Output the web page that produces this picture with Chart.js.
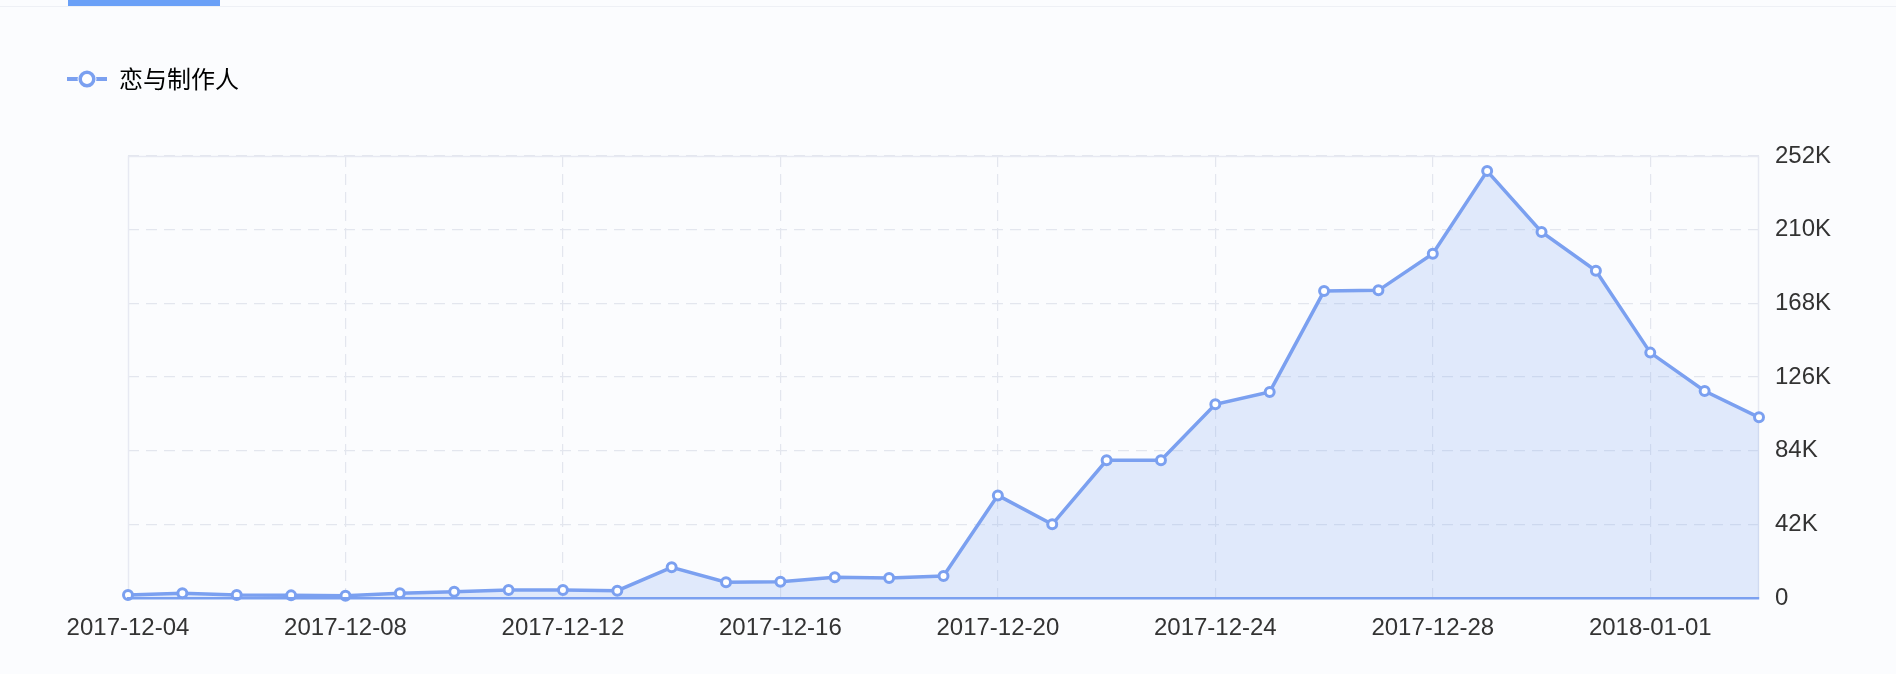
<!DOCTYPE html>
<html>
<head>
<meta charset="utf-8">
<script src="https://cdn.jsdelivr.net/npm/chart.js@4"></script>
<style>
  html, body { margin: 0; padding: 0; background: #fbfcfe; }
  #wrap { position: relative; width: 1896px; height: 674px; overflow: hidden; }
  #tab { position: absolute; left: 68px; top: 0; width: 152px; height: 6px; background: #6aa0f7; }
  #tabline { position: absolute; left: 0; top: 6px; width: 1896px; height: 1px; background: #eef0f5; }
  canvas { position: absolute; left: 0; top: 0; }
</style>
</head>
<body>
<div id="wrap">
  <canvas id="myChart" width="1896" height="674"></canvas>
  <div id="tabline"></div>
  <div id="tab"></div>
</div>
<script>
const seriesName = '恋与制作人';
const dates = [
  '2017-12-04','2017-12-05','2017-12-06','2017-12-07','2017-12-08','2017-12-09','2017-12-10',
  '2017-12-11','2017-12-12','2017-12-13','2017-12-14','2017-12-15','2017-12-16','2017-12-17',
  '2017-12-18','2017-12-19','2017-12-20','2017-12-21','2017-12-22','2017-12-23','2017-12-24',
  '2017-12-25','2017-12-26','2017-12-27','2017-12-28','2017-12-29','2017-12-30','2017-12-31',
  '2018-01-01','2018-01-02','2018-01-03'
];
const values = [
  1700, 2700, 1700, 1500, 1300, 2700, 3600,
  4600, 4600, 4200, 17500, 9000, 9300, 11800,
  11400, 12500, 58500, 42000, 78500, 78600, 110400,
  117500, 175000, 175400, 196300, 243400, 208700, 186600,
  139900, 118000, 103000
];
const yTicks = [0, 42000, 84000, 126000, 168000, 210000, 252000];

const lineColor = '#7ba0f0';
const gridColor = '#e3e6ee';
const textColor = '#333333';

// legend icon: short line with a hollow circle
function legendIcon() {
  const c = document.createElement('canvas');
  c.width = 40; c.height = 20;
  const g = c.getContext('2d');
  g.strokeStyle = lineColor;
  g.lineWidth = 4;
  g.beginPath(); g.moveTo(0, 10); g.lineTo(40, 10); g.stroke();
  g.fillStyle = '#fbfcfe';
  g.beginPath(); g.arc(20, 10, 9.5, 0, Math.PI * 2); g.fill();
  g.fillStyle = '#ffffff';
  g.lineWidth = 3.5;
  g.beginPath(); g.arc(20, 10, 6.8, 0, Math.PI * 2); g.fill(); g.stroke();
  return c;
}
const icon = legendIcon();

const legendHeight = {
  id: 'legendHeight',
  beforeInit(chart) {
    const fit = chart.legend.fit;
    chart.legend.fit = function() {
      fit.bind(chart.legend)();
      this.height = 99;
    };
  }
};

const areaBox = {
  id: 'areaBox',
  beforeDatasetsDraw(chart) {
    const a = chart.chartArea;
    const ctx = chart.ctx;
    ctx.save();
    ctx.strokeStyle = '#e7e9f2';
    ctx.lineWidth = 1.5;
    ctx.beginPath();
    ctx.moveTo(a.left + 0.5, a.bottom);
    ctx.lineTo(a.left + 0.5, a.top + 0.5);
    ctx.lineTo(a.right - 0.5, a.top + 0.5);
    ctx.lineTo(a.right - 0.5, a.bottom);
    ctx.stroke();
    ctx.restore();
  }
};

const ctx = document.getElementById('myChart').getContext('2d');
const myChart = new Chart(ctx, {
  type: 'line',
  data: {
    labels: dates,
    datasets: [{
      label: seriesName,
      data: values,
      yAxisID: 'y',
      borderColor: lineColor,
      backgroundColor: 'rgba(122,159,240,0.2)',
      borderWidth: 3.5,
      fill: 'origin',
      tension: 0,
      pointRadius: 4.5,
      pointBorderWidth: 3,
      pointBackgroundColor: '#ffffff',
      pointBorderColor: lineColor,
      pointStyle: 'circle',
      clip: false
    }]
  },
  options: {
    responsive: false,
    animation: false,
    devicePixelRatio: 1,
    layout: { padding: { left: 57, top: 57, right: 0, bottom: 0 } },
    plugins: {
      tooltip: { enabled: false },
      legend: {
        position: 'top',
        align: 'start',
        labels: {
          usePointStyle: true,
          pointStyleWidth: 40,
          padding: 10,
          color: textColor,
          font: { family: '"Noto Sans CJK SC", "Noto Sans", sans-serif', size: 24 },
          generateLabels(chart) {
            return [{
              text: seriesName,
              pointStyle: icon,
              fillStyle: lineColor,
              strokeStyle: lineColor,
              lineWidth: 0,
              datasetIndex: 0,
              hidden: false
            }];
          }
        }
      }
    },
    scales: {
      x: {
        type: 'category',
        offset: false,
        afterFit(s) { s.height = 76; },
        grid: {
          drawTicks: false,
          lineWidth: 1.2,
          color(c) { return c.index % 4 === 0 && c.index > 0 ? gridColor : 'rgba(0,0,0,0)'; }
        },
        border: { display: true, color: lineColor, width: 2.5, dash: [11, 7], z: 1 },
        ticks: {
          autoSkip: false,
          maxRotation: 0,
          padding: 16,
          color: textColor,
          font: { family: '"Liberation Sans", Arial, sans-serif', size: 24 },
          callback(v, i) { return i % 4 === 0 ? dates[i] : ''; }
        }
      },
      y: {
        type: 'linear',
        position: 'right',
        min: 0,
        max: 252000,
        afterFit(s) { s.width = 137; },
        afterBuildTicks(s) { s.ticks = yTicks.map(v => ({ value: v })); },
        grid: { drawTicks: false, color: gridColor, lineWidth: 1.2 },
        border: { display: false, dash: [11, 7] },
        ticks: {
          padding: 16,
          color: textColor,
          font: { family: '"Liberation Sans", Arial, sans-serif', size: 24 },
          callback(v) { return v === 0 ? '0' : (v / 1000) + 'K'; }
        }
      },
      yLeft: {
        type: 'linear',
        position: 'left',
        display: true,
        afterFit(s) { s.width = 71; },
        grid: { display: false },
        border: { display: false },
        ticks: { display: false }
      }
    }
  },
  plugins: [legendHeight, areaBox]
});
</script>
</body>
</html>
